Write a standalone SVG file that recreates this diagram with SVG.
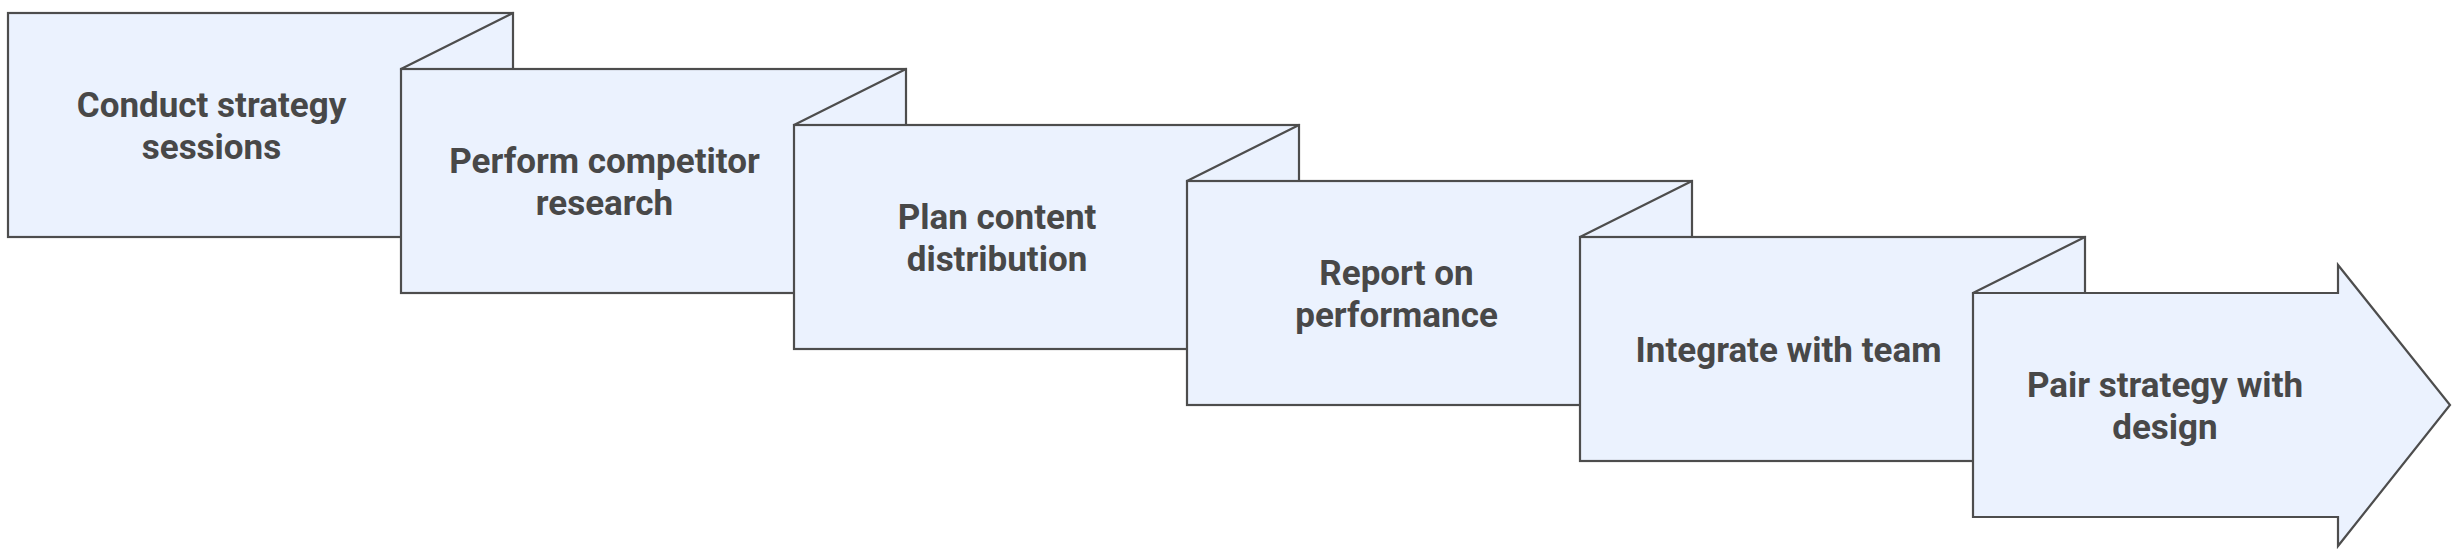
<svg xmlns="http://www.w3.org/2000/svg" width="2458" height="555" viewBox="0 0 2458 555">
<style>
.box{fill:#EBF2FE;stroke:#4D4D4D;stroke-width:2.2;stroke-linejoin:miter}
.fold{fill:none;stroke:#4D4D4D;stroke-width:2.2;stroke-linecap:round}
.lbl{font-family:Roboto,"Liberation Sans",sans-serif;font-weight:700;font-size:35px;fill:#484848;text-anchor:middle}
</style>
<rect width="2458" height="555" fill="#FFFFFF"/>
<g id="step1">
<rect class="box" x="8" y="13" width="505" height="224"/>
<text class="lbl" x="211.5" y="117">Conduct strategy</text>
<text class="lbl" x="211.5" y="159">sessions</text>
</g>
<g id="step2">
<rect class="box" x="401" y="69" width="505" height="224"/>
<line class="fold" x1="401" y1="69" x2="513" y2="13"/>
<text class="lbl" x="604.5" y="173">Perform competitor</text>
<text class="lbl" x="604.5" y="215">research</text>
</g>
<g id="step3">
<rect class="box" x="794" y="125" width="505" height="224"/>
<line class="fold" x1="794" y1="125" x2="906" y2="69"/>
<text class="lbl" x="997" y="229">Plan content</text>
<text class="lbl" x="997" y="271">distribution</text>
</g>
<g id="step4">
<rect class="box" x="1187" y="181" width="505" height="224"/>
<line class="fold" x1="1187" y1="181" x2="1299" y2="125"/>
<text class="lbl" x="1396.5" y="284.5">Report on</text>
<text class="lbl" x="1396.5" y="326.5">performance</text>
</g>
<g id="step5">
<rect class="box" x="1580" y="237" width="505" height="224"/>
<line class="fold" x1="1580" y1="237" x2="1692" y2="181"/>
<text class="lbl" x="1788.5" y="362">Integrate with team</text>
</g>
<g id="step6">
<polygon class="box" points="1973,293 2338,293 2338,265 2450,405 2338,546 2338,517 1973,517"/>
<line class="fold" x1="1973" y1="293" x2="2085" y2="237"/>
<text class="lbl" x="2165" y="397">Pair strategy with</text>
<text class="lbl" x="2165" y="439">design</text>
</g>
<g id="connectors"></g>
</svg>
